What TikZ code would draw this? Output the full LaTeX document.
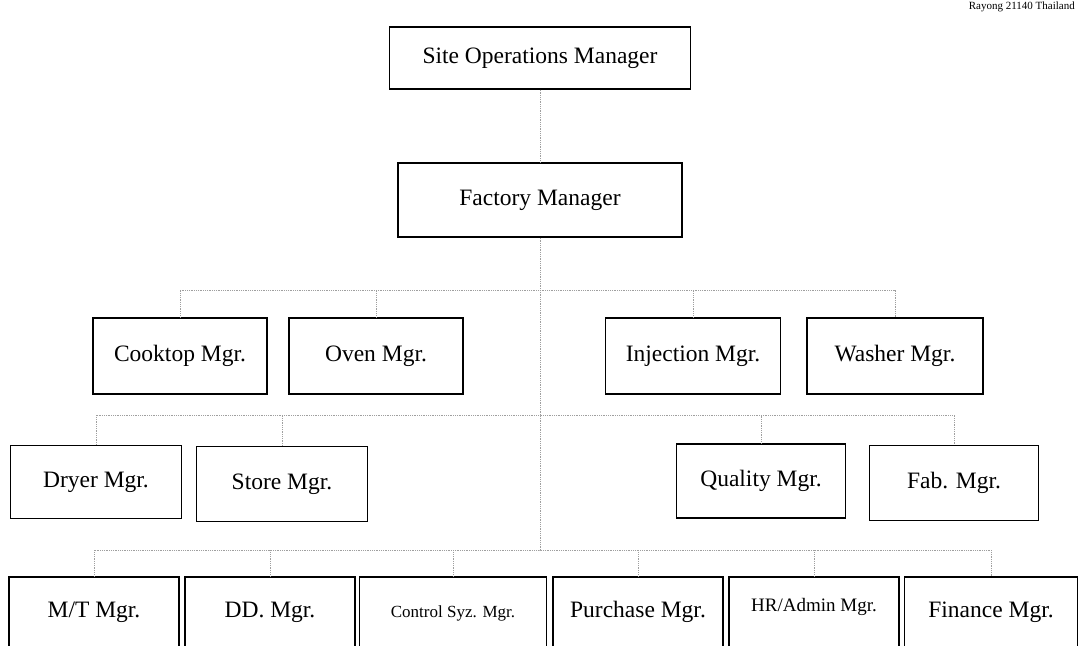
\documentclass[tikz,border=0pt]{standalone}
\usepackage{fontspec}
\setmainfont{Liberation Serif}
\tikzset{
    mgr/.style={draw, line width=1.4pt, minimum height=74pt, inner sep=2pt,
        text height=15pt, text depth=4pt,
        font=\fontsize{23.5}{27}\selectfont},
    link/.style={draw=gray!75, densely dotted, line width=0.8pt},
}
\begin{document}
\begin{tikzpicture}[x=1pt, y=-1pt]
        \useasboundingbox (0,0) rectangle (1081,645);

        \node[anchor=north east, inner sep=1pt, font=\fontsize{11}{13}\selectfont] (addr) at (1076,1) {Rayong 21140 Thailand};

        \node[mgr, minimum width=301pt, minimum height=62pt] (site) at (540,58) {Site Operations Manager};
        \node[mgr, minimum width=284pt] (fm) at (540,200) {Factory Manager};

        \node[mgr, minimum width=174pt, minimum height=76pt] (cook) at (180,356) {Cooktop Mgr.};
        \node[mgr, minimum width=174pt, minimum height=76pt] (oven) at (376,356) {Oven Mgr.};
        \node[mgr, minimum width=175pt, minimum height=76pt] (inj) at (693,356) {Injection Mgr.};
        \node[mgr, minimum width=176pt, minimum height=76pt] (wash) at (895,356) {Washer Mgr.};

        \node[mgr, minimum width=171pt, minimum height=73pt] (dryer) at (96,482) {Dryer Mgr.};
        \node[mgr, minimum width=171pt, minimum height=75pt] (store) at (282,484) {Store Mgr.};
        \node[mgr, minimum width=169pt] (qual) at (761,481) {Quality Mgr.};
        \node[mgr, minimum width=169pt, minimum height=75pt] (fab) at (954,483) {Fab. Mgr.};

        \node[mgr, minimum width=170pt, minimum height=70pt] (mt) at (94,612) {M/T Mgr.};
        \node[mgr, minimum width=170pt, minimum height=70pt] (dd) at (270,612) {DD. Mgr.};
        \node[mgr, minimum width=187pt, minimum height=70pt, font=\fontsize{17}{20}\selectfont] (ctrl) at (453,612) {Control Syz. Mgr.};
        \node[mgr, minimum width=170pt, minimum height=70pt] (pur) at (638,612) {Purchase Mgr.};
        \node[mgr, minimum width=170pt, minimum height=70pt, font=\fontsize{19}{22}\selectfont] (hr) at (814,612) {\raisebox{6pt}{HR/Admin Mgr.}};
        \node[mgr, minimum width=173pt, minimum height=70pt] (fin) at (991,612) {Finance Mgr.};

        % buses
        \coordinate (bus1) at (540,290);
        \coordinate (bus2) at (540,415);
        \coordinate (bus3) at (540,550);

        \draw[link] (site) -- (fm);
        \draw[link] (fm) -- (bus3);

        \draw[link] (cook.north) |- (bus1) -| (wash.north);
        \draw[link] (oven.north) -- (oven.north |- bus1);
        \draw[link] (inj.north) -- (inj.north |- bus1);

        \draw[link] (dryer.north) |- (bus2) -| (fab.north);
        \draw[link] (store.north) -- (store.north |- bus2);
        \draw[link] (qual.north) -- (qual.north |- bus2);

        \draw[link] (mt.north) |- (bus3) -| (fin.north);
        \draw[link] (dd.north) -- (dd.north |- bus3);
        \draw[link] (ctrl.north) -- (ctrl.north |- bus3);
        \draw[link] (pur.north) -- (pur.north |- bus3);
        \draw[link] (hr.north) -- (hr.north |- bus3);
    \end{tikzpicture}
\end{document}
